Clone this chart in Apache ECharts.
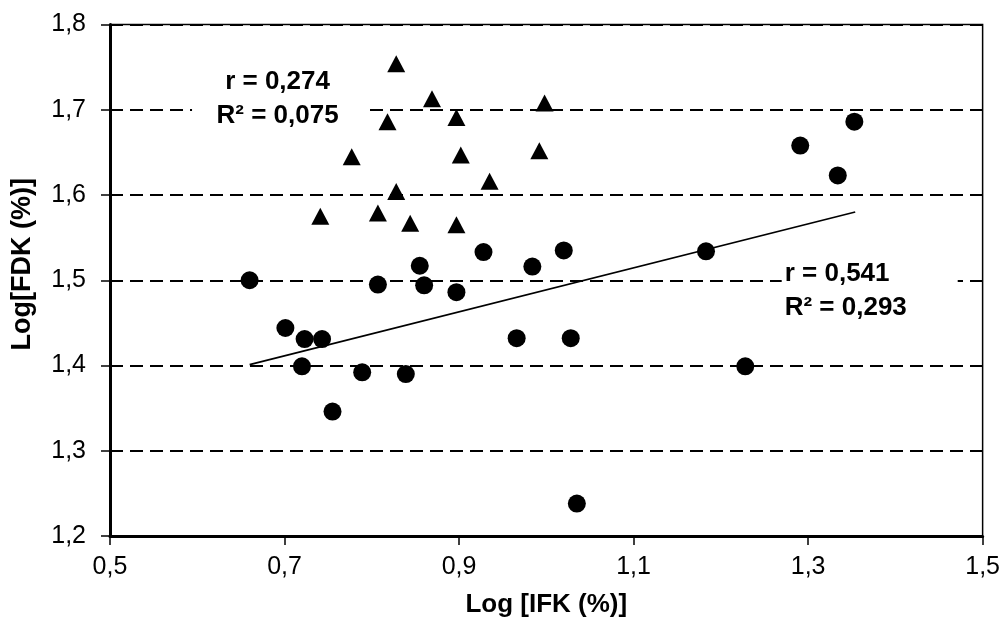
<!DOCTYPE html>
<html>
<head>
<meta charset="utf-8">
<title>Log FDK vs Log IFK</title>
<script src="https://cdn.jsdelivr.net/npm/echarts@6.0.0/dist/echarts.min.js"></script>
<style>
  html, body { margin: 0; padding: 0; background: #fff; }
  #chart { width: 1003px; height: 623px; }
</style>
</head>
<body>
<div id="chart"></div>
<script>
// circles (group 1)
const circleX = [0.660, 0.701, 0.723, 0.743, 0.720, 0.755, 0.789, 0.807, 0.839, 0.855, 0.860, 0.897,
  0.928, 0.966, 0.984, 1.020, 1.028, 1.035, 1.183, 1.228, 1.291, 1.334, 1.353]
const circleY = [1.500, 1.444, 1.431, 1.431, 1.399, 1.346, 1.392, 1.495, 1.390, 1.517, 1.494, 1.486,
  1.533, 1.432, 1.516, 1.535, 1.432, 1.238, 1.534, 1.399, 1.658, 1.623, 1.686]

// triangles (group 2)
const triX = [0.741, 0.777, 0.807, 0.818, 0.828, 0.828, 0.844, 0.869, 0.897, 0.897, 0.902, 0.935, 0.992, 0.998]
const triY = [1.575, 1.645, 1.579, 1.686, 1.754, 1.604, 1.567, 1.713, 1.691, 1.565, 1.647, 1.616, 1.652, 1.708]

// regression line for circles
const trendX = [0.660, 1.354]
const trendY = [1.401, 1.580]

// stat boxes
const statText = ['r = 0,274\nR² = 0,075', 'r = 0,541\nR² = 0,293']
const statAt = [[0.692, 1.7128], [1.3706, 1.488]]

const FONT = "'Liberation Sans', Arial, sans-serif"
const zip = (xs, ys) => xs.map((x, i) => [x, ys[i]])
const comma = v => v.toFixed(1).replace('.', ',')

const chart = echarts.init(document.getElementById('chart'))

const statBox = (i, pos) => ({
  coord: statAt[i],
  symbol: 'rect',
  symbolSize: i === 0 ? [171, 60] : [176, 60],
  itemStyle: { color: '#fff', opacity: 1 },
  label: {
    show: true,
    position: pos,
    distance: 3,
    formatter: statText[i],
    color: '#000',
    fontFamily: FONT,
    fontWeight: 'bold',
    fontSize: 26,
    lineHeight: 34,
    align: i === 0 ? 'center' : 'left'
  }
})

chart.setOption({
  animation: false,
  backgroundColor: '#fff',
  grid: {
    left: 110,
    right: 20,
    top: 24.5,
    bottom: 86,
    show: true,
    borderColor: '#000',
    borderWidth: 1.5,
    backgroundColor: 'transparent'
  },
  xAxis: {
    type: 'value',
    min: 0.5,
    max: 1.5,
    interval: 0.2,
    name: 'Log [IFK (%)]',
    nameLocation: 'middle',
    nameGap: 56,
    nameTextStyle: { color: '#000', fontFamily: FONT, fontWeight: 'bold', fontSize: 26 },
    axisLine: { show: true, onZero: false, lineStyle: { color: '#000', width: 3 } },
    axisTick: { show: true, inside: false, length: 9, lineStyle: { color: '#000', width: 1.5 } },
    axisLabel: { margin: 19, color: '#000', fontFamily: FONT, fontSize: 25, formatter: comma },
    splitLine: { show: false }
  },
  yAxis: {
    type: 'value',
    min: 1.2,
    max: 1.8,
    interval: 0.1,
    name: 'Log[FDK (%)]',
    nameLocation: 'middle',
    nameGap: 74,
    nameTextStyle: {
      color: '#000', fontFamily: FONT, fontWeight: 'bold', fontSize: 27,
      padding: [0, 0, 0, 32]
    },
    axisLine: { show: true, onZero: false, lineStyle: { color: '#000', width: 3 } },
    axisTick: { show: true, inside: false, length: 9, lineStyle: { color: '#000', width: 1.5 } },
    axisLabel: { margin: 24, color: '#000', fontFamily: FONT, fontSize: 25, formatter: comma },
    splitLine: { show: true, lineStyle: { color: '#000', width: 2, opacity: 1, type: [13, 7] } }
  },
  series: [
    {
      name: 'triangles',
      type: 'scatter',
      symbol: 'triangle',
      symbolSize: [18, 17],
      itemStyle: { color: '#000', opacity: 1 },
      data: zip(triX, triY)
    },
    {
      name: 'circles',
      type: 'scatter',
      symbol: 'circle',
      symbolSize: 18,
      itemStyle: { color: '#000', opacity: 1 },
      data: zip(circleX, circleY)
    },
    {
      name: 'trend',
      type: 'line',
      symbol: 'none',
      lineStyle: { color: '#000', width: 1.6 },
      data: zip(trendX, trendY),
      markPoint: {
        silent: true,
        data: [statBox(0, 'inside'), statBox(1, 'insideLeft')]
      }
    }
  ]
})
</script>
</body>
</html>
